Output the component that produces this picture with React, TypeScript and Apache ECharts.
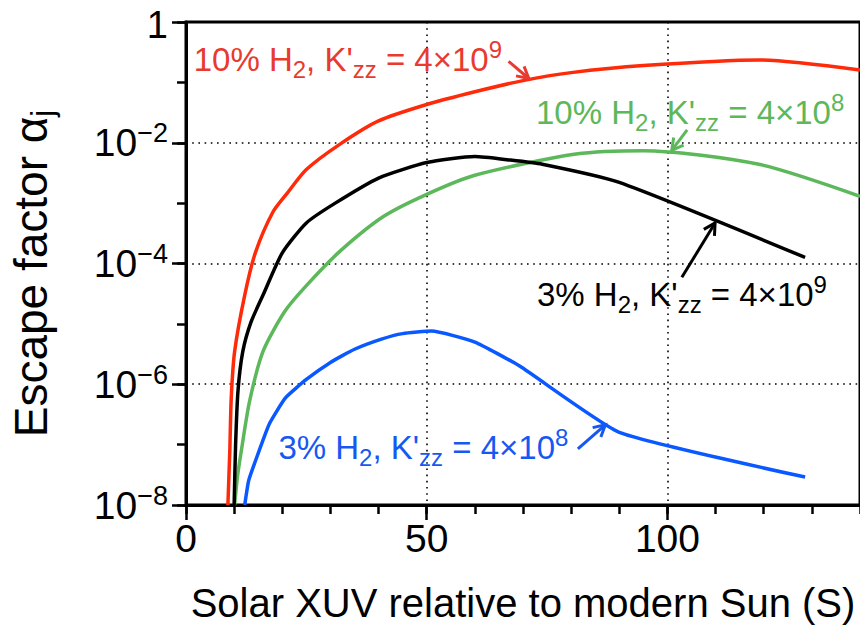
import React, { useEffect, useRef } from "react";
import * as echarts from "echarts";

const FONT = '"Liberation Sans", Arial, Helvetica, sans-serif';

// Solar XUV (S) and escape factor alpha_j for each case
const redX = [8.7, 9.1, 9.4, 10.1, 12.2, 14.4, 18, 21, 25, 32, 40, 50, 60, 70, 80, 95, 119, 140];
const redY = [1e-8, 8e-8, 6e-7, 3.5e-6, 3e-5, 1.5e-4, 7e-4, 1.45e-3, 3.6e-3, 9.5e-3, 2.3e-2, 4.3e-2, 7e-2, 1.07e-1, 1.45e-1, 1.9e-1, 2.35e-1, 1.6e-1];

const blackX = [10.0, 10.3, 10.8, 11.8, 13.5, 16, 20, 25, 31, 40, 50, 60, 67, 74, 90, 128.6];
const blackY = [1e-8, 1e-7, 7.8e-7, 3.5e-6, 1.07e-5, 3e-5, 1.5e-4, 4.7e-4, 1e-3, 2.6e-3, 4.7e-3, 5.9e-3, 5.2e-3, 4.4e-3, 2.2e-3, 1.26e-4];

const greenX = [10.1, 10.7, 11.5, 13.2, 16, 20.5, 25, 32, 41, 50, 60, 81, 95, 119, 140];
const greenY = [1e-8, 3e-8, 8e-8, 5.2e-7, 3.5e-6, 1.6e-5, 4.3e-5, 1.6e-4, 6e-4, 1.4e-3, 2.9e-3, 6.5e-3, 7.4e-3, 4.4e-3, 1.3e-3];

const blueX = [12.2, 13, 14.2, 17.3, 20.7, 25, 30, 35, 40.6, 45, 51, 60, 69.3, 90, 128.6];
const blueY = [1e-8, 2.5e-8, 4.8e-8, 2.2e-7, 6e-7, 1.2e-6, 2.3e-6, 3.8e-6, 5.6e-6, 6.9e-6, 7.6e-6, 5e-6, 2e-6, 1.6e-7, 2.9e-8];

const xTitle = "Solar XUV relative to modern Sun (S)";
const yTitle = "{m|Escape factor α}{s|j}";

// annotation labels and arrows (positions in data coordinates)
const labels = [
  { text: "{m|10% H}{sub|2}{m|, K'}{sub|zz}{m| = 4×10}{sup|9}", at: [1.6, 0.238], tail: [67.0, 0.223], tip: [71.2, 0.116], color: "#e83a2e" },
  { text: "{m|10% H}{sub|2}{m|, K'}{sub|zz}{m| = 4×10}{sup|8}", at: [72.7, 0.0322], tail: [104.1, 0.0163], tip: [100.9, 0.00748], color: "#5cb85a" },
  { text: "{m|3% H}{sub|2}{m|, K'}{sub|zz}{m| = 4×10}{sup|9}", at: [72.9, 3.1e-5], tail: [103.0, 5.9e-5], tip: [109.9, 4.7e-4], color: "#000000" },
  { text: "{m|3% H}{sub|2}{m|, K'}{sub|zz}{m| = 4×10}{sup|8}", at: [19.2, 8.9e-8], tail: [81.4, 8.5e-8], tip: [87.1, 2.13e-7], color: "#1558f2" },
];

const zip = (xs: number[], ys: number[]) => xs.map((x, i) => [x, ys[i]]);

export default function App() {
  const ref = useRef<HTMLDivElement>(null);
  useEffect(() => {
    if (!ref.current) return;
    const chart = echarts.init(ref.current, undefined, { renderer: "svg" });
    const dotted = { color: "#000", width: 1.6, type: [1.6, 4.6] as any };
    const series = [
      { name: "10% H2, K'zz = 4×10^8", color: "#5cb85a", x: greenX, y: greenY, smooth: 0.25 },
      { name: "3% H2, K'zz = 4×10^8", color: "#0a58ff", x: blueX, y: blueY, smooth: 0.15 },
      { name: "3% H2, K'zz = 4×10^9", color: "#000000", x: blackX, y: blackY, smooth: 0.2 },
      { name: "10% H2, K'zz = 4×10^9", color: "#ff2a0a", x: redX, y: redY, smooth: 0.25 },
    ].map((s) => ({
      type: "line",
      name: s.name,
      data: zip(s.x, s.y),
      showSymbol: false,
      symbol: "none",
      smooth: s.smooth,
      xAxisIndex: 0,
      yAxisIndex: 0,
      lineStyle: { color: s.color, width: 3.5 },
      itemStyle: { color: s.color },
      clip: true,
    }));

    chart.setOption({
      animation: false,
      grid: { left: 182, right: -4, top: 17, bottom: 124, show: true, borderColor: "#000", borderWidth: 3, backgroundColor: "transparent" },
      xAxis: [
        {
          type: "value", min: 0, max: 140, interval: 10, position: "bottom",
          axisLine: { show: true, onZero: false, lineStyle: { color: "#000", width: 3 } },
          axisTick: { show: true, inside: false, length: 9, lineStyle: { color: "#000", width: 2.5 } },
          axisLabel: { show: false },
          splitLine: { show: false },
        },
        {
          type: "value", min: 0, max: 140, interval: 50, position: "bottom",
          axisLine: { show: false, onZero: false },
          axisTick: { show: true, inside: false, length: 15, lineStyle: { color: "#000", width: 2.5 } },
          axisLabel: { show: true, margin: 14, fontSize: 39, fontFamily: FONT, color: "#000", showMaxLabel: false },
          splitLine: { show: true, lineStyle: dotted },
          name: xTitle, nameLocation: "middle", nameGap: 78,
          nameTextStyle: { fontSize: 40, fontFamily: FONT, color: "#000" },
        },
      ],
      yAxis: [
        {
          type: "log", logBase: 10, min: 1e-8, max: 1, interval: 1, position: "left",
          axisLine: { show: true, onZero: false, lineStyle: { color: "#000", width: 3 } },
          axisTick: { show: true, inside: false, length: 9, lineStyle: { color: "#000", width: 2.5 } },
          axisLabel: { show: false },
          splitLine: { show: false },
        },
        {
          type: "log", logBase: 10, min: 1e-8, max: 1, interval: 2, position: "left",
          axisLine: { show: false, onZero: false },
          axisTick: { show: true, inside: false, length: 14, lineStyle: { color: "#000", width: 2.5 } },
          axisLabel: {
            show: true, margin: 18, color: "#000", fontFamily: FONT,
            formatter: (v: number) => {
              const e = Math.round(Math.log10(v));
              return e === 0 ? "{one|1}" : `{b|10}{s|−${-e}}`;
            },
            rich: {
              one: { fontSize: 38, lineHeight: 34, padding: [6, 0, 0, 0], fontFamily: FONT, color: "#000" },
              b: { fontSize: 39, lineHeight: 46, fontFamily: FONT, color: "#000" },
              s: { fontSize: 27, lineHeight: 27, verticalAlign: "top", fontFamily: FONT, color: "#000" },
            },
          },
          splitLine: { show: true, lineStyle: dotted },
          name: yTitle, nameLocation: "middle", nameRotate: 90, nameGap: 128,
          nameTextStyle: {
            color: "#000", fontFamily: FONT, fontSize: 46, padding: [0, 20, 0, 0],
            rich: {
              m: { fontSize: 46, lineHeight: 54, fontFamily: FONT, color: "#000" },
              s: { fontSize: 31, lineHeight: 31, verticalAlign: "bottom", fontFamily: FONT, color: "#000" },
            },
          },
        },
      ],
      series,
    });

    const rich = {
      m: { fontSize: 33, lineHeight: 44, fontFamily: FONT },
      sub: { fontSize: 24, lineHeight: 24, verticalAlign: "bottom", fontFamily: FONT },
      sup: { fontSize: 24, lineHeight: 24, verticalAlign: "top", fontFamily: FONT },
    };
    const g: any[] = [];
    labels.forEach((a) => {
      const p = chart.convertToPixel({ seriesIndex: 0 }, a.at) as number[];
      g.push({
        type: "text", x: p[0], y: p[1], z: 100,
        style: { text: a.text, rich, fill: a.color, fontSize: 33, fontFamily: FONT, align: "left", verticalAlign: "middle" },
      });
      const t = chart.convertToPixel({ seriesIndex: 0 }, a.tail) as number[];
      const h = chart.convertToPixel({ seriesIndex: 0 }, a.tip) as number[];
      const ang = Math.atan2(h[1] - t[1], h[0] - t[0]);
      const L = 13, w = 0.5;
      const p1 = [h[0] - L * Math.cos(ang - w), h[1] - L * Math.sin(ang - w)];
      const p2 = [h[0] - L * Math.cos(ang + w), h[1] - L * Math.sin(ang + w)];
      g.push({ type: "line", z: 100, shape: { x1: t[0], y1: t[1], x2: h[0], y2: h[1] }, style: { stroke: a.color, lineWidth: 3 } });
      g.push({ type: "polyline", z: 100, shape: { points: [p1, h, p2] }, style: { stroke: a.color, lineWidth: 3, fill: "none" } });
    });
    chart.setOption({ graphic: g });

    return () => chart.dispose();
  }, []);
  return <div ref={ref} style={{ position: "fixed", left: 0, top: 0, width: 860, height: 629, background: "#fff" }} />;
}
